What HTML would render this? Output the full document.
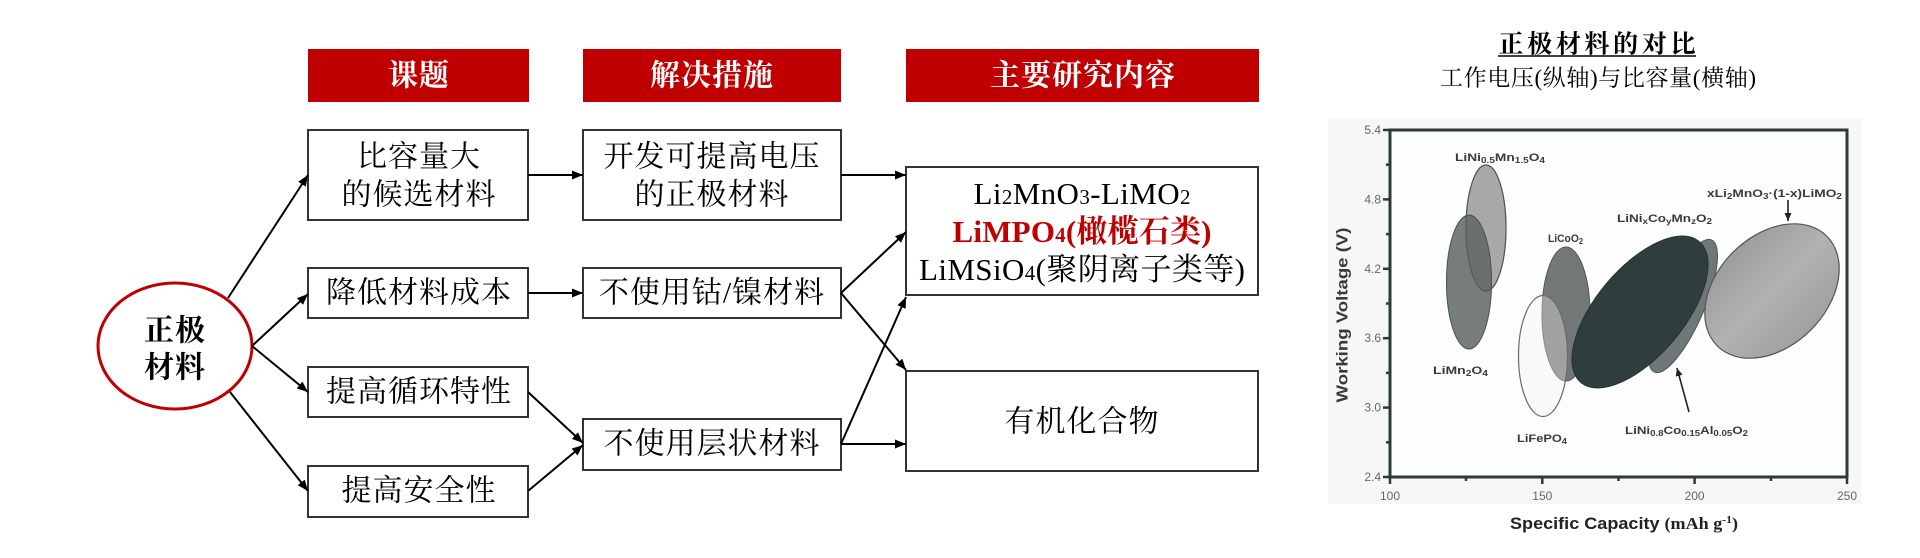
<!DOCTYPE html>
<html><head><meta charset="utf-8"><style>
html,body{margin:0;padding:0;background:#fff;}
svg{display:block;}
.cj{font-family:"Liberation Serif","Noto Serif CJK SC",serif;}
.cs{font-family:"Liberation Sans","Noto Sans CJK SC",sans-serif;}
</style></head><body>
<svg width="1920" height="558" viewBox="0 0 1920 558" xmlns="http://www.w3.org/2000/svg">
<defs>
<marker id="ah" markerUnits="userSpaceOnUse" markerWidth="12" markerHeight="10" refX="11" refY="4.5" orient="auto"><path d="M0,0 L11,4.5 L0,9 z" fill="#000"/></marker>
<marker id="ah2" markerUnits="userSpaceOnUse" markerWidth="9" markerHeight="9" refX="8" refY="3.5" orient="auto"><path d="M0,0 L8,3.5 L0,7 z" fill="#222"/></marker>
<linearGradient id="gx" x1="0" y1="0" x2="0" y2="1"><stop offset="0" stop-color="#9d9d9d"/><stop offset="0.5" stop-color="#b2b2b2"/><stop offset="1" stop-color="#a0a0a0"/></linearGradient>
</defs>

<!-- Headers -->
<rect x="308" y="49" width="221" height="53" fill="#c00000"/>
<rect x="583" y="49" width="258" height="53" fill="#c00000"/>
<rect x="906" y="49" width="353" height="53" fill="#c00000"/>
<g class="cj" font-weight="bold" font-size="30" fill="#fff" text-anchor="middle" dominant-baseline="central" letter-spacing="1">
<text x="419" y="76">课题</text>
<text x="712" y="76">解决措施</text>
<text x="1083" y="76">主要研究内容</text>
</g>

<!-- Boxes -->
<g fill="#fff" stroke="#333" stroke-width="2">
<rect x="308" y="130" width="220" height="90"/>
<rect x="308" y="268" width="220" height="50"/>
<rect x="308" y="367" width="220" height="50"/>
<rect x="308" y="466" width="220" height="51"/>
<rect x="583" y="130" width="258" height="90"/>
<rect x="583" y="268" width="258" height="50"/>
<rect x="583" y="419" width="258" height="51"/>
<rect x="906" y="167" width="352" height="128"/>
<rect x="906" y="371" width="352" height="100"/>
</g>

<!-- Ellipse -->
<ellipse cx="175" cy="346" rx="77" ry="63" fill="#fff" stroke="#c00000" stroke-width="3"/>
<g class="cj" font-weight="bold" font-size="30" fill="#000" text-anchor="middle" dominant-baseline="central" letter-spacing="1">
<text x="175" y="331">正极</text>
<text x="175" y="368">材料</text>
</g>

<!-- Box texts -->
<g class="cj" font-size="30" fill="#000" text-anchor="middle" dominant-baseline="central" letter-spacing="1">
<text x="419" y="157">比容量大</text>
<text x="419" y="195">的候选材料</text>
<text x="419" y="293">降低材料成本</text>
<text x="419" y="392">提高循环特性</text>
<text x="419" y="491">提高安全性</text>
<text x="712" y="157">开发可提高电压</text>
<text x="712" y="195">的正极材料</text>
<text x="712" y="293">不使用钴/镍材料</text>
<text x="712" y="444">不使用层状材料</text>
<text x="1082" y="422">有机化合物</text>
</g>
<g class="cj" font-size="31" fill="#000" text-anchor="middle">
<text x="1082" y="204" textLength="217" lengthAdjust="spacing">Li<tspan font-size="21">2</tspan>MnO<tspan font-size="21">3</tspan>-LiMO<tspan font-size="21">2</tspan></text>
<text x="1082" y="242" textLength="259" lengthAdjust="spacing" fill="#c00000" font-weight="bold">LiMPO<tspan font-size="21">4</tspan>(橄榄石类)</text>
<text x="1082" y="280" textLength="326" lengthAdjust="spacing">LiMSiO<tspan font-size="21">4</tspan>(聚阴离子类等)</text>
</g>

<!-- Connectors -->
<g stroke="#000" stroke-width="2" fill="none" marker-end="url(#ah)">
<line x1="228" y1="298" x2="308" y2="175"/>
<line x1="252" y1="346" x2="308" y2="294"/>
<line x1="252" y1="346" x2="308" y2="392"/>
<line x1="230" y1="392" x2="308" y2="491"/>
<line x1="528" y1="175" x2="583" y2="175"/>
<line x1="528" y1="293" x2="583" y2="293"/>
<line x1="528" y1="392" x2="583" y2="443"/>
<line x1="528" y1="491" x2="583" y2="445"/>
<line x1="841" y1="175" x2="906" y2="175"/>
<line x1="841" y1="293" x2="906" y2="232"/>
<line x1="841" y1="293" x2="906" y2="370"/>
<line x1="841" y1="444" x2="906" y2="297"/>
<line x1="841" y1="444" x2="906" y2="444"/>
</g>

<!-- Chart title -->
<text class="cj" x="1597" y="45" font-size="25" font-weight="bold" text-anchor="middle" dominant-baseline="central" textLength="197" lengthAdjust="spacing">正极材料的对比</text>
<line x1="1498" y1="56" x2="1696" y2="56" stroke="#000" stroke-width="1.6"/>
<text class="cj" x="1598" y="78" font-size="23" text-anchor="middle" dominant-baseline="central" textLength="316" lengthAdjust="spacing">工作电压(纵轴)与比容量(横轴)</text>

<!-- Chart background -->
<rect x="1328" y="118" width="534" height="386" fill="#f7f7f7"/>
<rect x="1390" y="130" width="457" height="347" fill="#fdfdfd"/>

<!-- Ellipses -->
<ellipse cx="1486" cy="228" rx="20" ry="63" fill="#a8a8a8" stroke="#555" stroke-width="1.2"/>
<ellipse cx="1469" cy="282" rx="22.5" ry="67" fill="#5f6565" fill-opacity="0.85" stroke="#4a4f4f" stroke-width="1"/>
<ellipse cx="1486" cy="228" rx="20" ry="63" fill="none" stroke="#555" stroke-width="1" stroke-opacity="0.6"/>
<ellipse cx="1566" cy="314" rx="24" ry="67" fill="#727878" stroke="#555" stroke-width="1"/>
<ellipse cx="1543" cy="356" rx="24.5" ry="60.5" fill="#f4eff4" fill-opacity="0.35" stroke="#6a6a6a" stroke-width="1.2"/>
<ellipse cx="1683" cy="306" rx="72" ry="21" transform="rotate(-66.6 1683 306)" fill="#6e7878" stroke="#4e5656" stroke-width="1"/>
<ellipse cx="1640" cy="312" rx="92" ry="44" transform="rotate(-50 1640 312)" fill="#2f3d3d" stroke="#263232" stroke-width="1"/>
<ellipse cx="1772" cy="291" rx="77.5" ry="55" transform="rotate(-45 1772 291)" fill="url(#gx)" stroke="#555" stroke-width="1.2"/>

<!-- Axes -->
<rect x="1390" y="130" width="457" height="347" fill="none" stroke="#2b3a3a" stroke-width="3"/>
<g stroke="#2b3a3a" stroke-width="2.5">
<line x1="1383" y1="130" x2="1390" y2="130"/>
<line x1="1383" y1="199.4" x2="1390" y2="199.4"/>
<line x1="1383" y1="268.8" x2="1390" y2="268.8"/>
<line x1="1383" y1="338.2" x2="1390" y2="338.2"/>
<line x1="1383" y1="407.6" x2="1390" y2="407.6"/>
<line x1="1383" y1="477" x2="1390" y2="477"/>
<line x1="1386" y1="164.7" x2="1390" y2="164.7"/>
<line x1="1386" y1="234.1" x2="1390" y2="234.1"/>
<line x1="1386" y1="303.5" x2="1390" y2="303.5"/>
<line x1="1386" y1="372.9" x2="1390" y2="372.9"/>
<line x1="1386" y1="442.3" x2="1390" y2="442.3"/>
<line x1="1390" y1="477" x2="1390" y2="484"/>
<line x1="1542.3" y1="477" x2="1542.3" y2="484"/>
<line x1="1694.6" y1="477" x2="1694.6" y2="484"/>
<line x1="1847" y1="477" x2="1847" y2="484"/>
<line x1="1466" y1="477" x2="1466" y2="481"/>
<line x1="1618.5" y1="477" x2="1618.5" y2="481"/>
<line x1="1771" y1="477" x2="1771" y2="481"/>
</g>
<g class="cs" font-size="12" fill="#666" text-anchor="end" dominant-baseline="central">
<text x="1381" y="130">5.4</text>
<text x="1381" y="199.4">4.8</text>
<text x="1381" y="268.8">4.2</text>
<text x="1381" y="338.2">3.6</text>
<text x="1381" y="407.6">3.0</text>
<text x="1381" y="477">2.4</text>
</g>
<g class="cs" font-size="12" fill="#666" text-anchor="middle" dominant-baseline="central">
<text x="1390" y="496">100</text>
<text x="1542.3" y="496">150</text>
<text x="1694.6" y="496">200</text>
<text x="1847" y="496">250</text>
</g>
<text class="cs" x="0" y="0" font-size="16" font-weight="bold" fill="#3a3a3a" text-anchor="middle" dominant-baseline="central" transform="translate(1343 315) rotate(-90)" textLength="175" lengthAdjust="spacingAndGlyphs">Working Voltage (V)</text>
<text x="1624" y="529" font-size="17" font-weight="bold" fill="#222" text-anchor="middle" textLength="228" lengthAdjust="spacingAndGlyphs"><tspan font-family="Liberation Sans, sans-serif">Specific Capacity </tspan><tspan font-family="Liberation Serif, serif">(mAh g<tspan font-size="11" dy="-6">-1</tspan><tspan dy="6">)</tspan></tspan></text>

<!-- Chart labels -->
<g class="cs" font-weight="bold" fill="#3a3a3a" font-size="11">
<text x="1455" y="161" textLength="90" lengthAdjust="spacingAndGlyphs">LiNi<tspan font-size="8" dy="2">0.5</tspan><tspan dy="-2">Mn</tspan><tspan font-size="8" dy="2">1.5</tspan><tspan dy="-2">O</tspan><tspan font-size="8" dy="2">4</tspan></text>
<text x="1548" y="242" textLength="35" lengthAdjust="spacingAndGlyphs">LiCoO<tspan font-size="8" dy="2">2</tspan></text>
<text x="1433" y="374" textLength="55" lengthAdjust="spacingAndGlyphs">LiMn<tspan font-size="8" dy="2">2</tspan><tspan dy="-2">O</tspan><tspan font-size="8" dy="2">4</tspan></text>
<text x="1517" y="442" textLength="50" lengthAdjust="spacingAndGlyphs">LiFePO<tspan font-size="8" dy="2">4</tspan></text>
<text x="1617" y="222" textLength="95" lengthAdjust="spacingAndGlyphs">LiNi<tspan font-size="8" dy="2">x</tspan><tspan dy="-2">Co</tspan><tspan font-size="8" dy="2">y</tspan><tspan dy="-2">Mn</tspan><tspan font-size="8" dy="2">z</tspan><tspan dy="-2">O</tspan><tspan font-size="8" dy="2">2</tspan></text>
<text x="1707" y="197" textLength="135" lengthAdjust="spacingAndGlyphs">xLi<tspan font-size="8" dy="2">2</tspan><tspan dy="-2">MnO</tspan><tspan font-size="8" dy="2">3</tspan><tspan dy="-2">·(1-x)LiMO</tspan><tspan font-size="8" dy="2">2</tspan></text>
<text x="1625" y="434" textLength="123" lengthAdjust="spacingAndGlyphs">LiNi<tspan font-size="8" dy="2">0.8</tspan><tspan dy="-2">Co</tspan><tspan font-size="8" dy="2">0.15</tspan><tspan dy="-2">Al</tspan><tspan font-size="8" dy="2">0.05</tspan><tspan dy="-2">O</tspan><tspan font-size="8" dy="2">2</tspan></text>
</g>
<g stroke="#222" stroke-width="1.6" marker-end="url(#ah2)">
<line x1="1788" y1="200" x2="1788" y2="221"/>
<line x1="1689" y1="412" x2="1677" y2="368"/>
</g>
</svg>
</body></html>
